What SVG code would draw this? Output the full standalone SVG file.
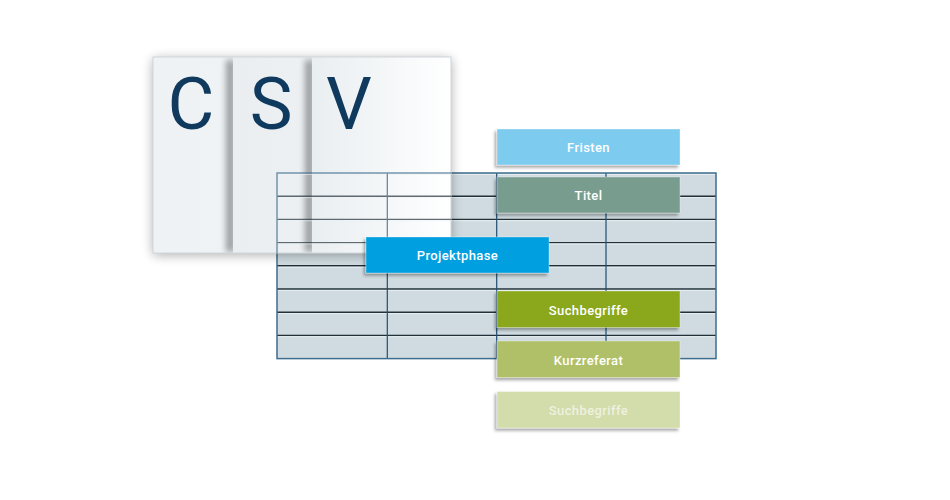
<svg xmlns="http://www.w3.org/2000/svg" xmlns:xlink="http://www.w3.org/1999/xlink" width="950" height="500" viewBox="0 0 950 500">
  <defs>
    <style>
      .cell { fill: #cfdbe0; }
      .hl { stroke: #22303a; stroke-width: 1.4; }
      .hi { stroke: #eef3f5; stroke-width: 0.8; }
      .vl { stroke: #1e4e72; stroke-width: 1.2; }
      .outer { fill: none; stroke: #3e6d8f; stroke-width: 1.5; }
      .letter { font-family: Roboto, "Liberation Sans", sans-serif; font-size: 72px; font-weight: 400; fill: #0f3a5e; text-anchor: middle; }
      .lbl { font-family: Roboto, "Liberation Sans", sans-serif; font-size: 13px; font-weight: 500; letter-spacing: 0.4px; fill: #ffffff; text-anchor: middle; }
      .box { stroke: #ffffff; stroke-opacity: 0.35; stroke-width: 1; filter: url(#boxShadow); }
    </style>
    <filter id="boxShadow" x="-10%" y="-30%" width="120%" height="170%">
      <feDropShadow dx="-2" dy="2.5" stdDeviation="1.6" flood-color="#000" flood-opacity="0.35"/>
    </filter>
    <filter id="stackBlur" x="-20%" y="-20%" width="140%" height="140%">
      <feGaussianBlur stdDeviation="6"/>
    </filter>
    <filter id="edgeBlur" x="-100%" y="-10%" width="300%" height="120%">
      <feGaussianBlur stdDeviation="3"/>
    </filter>
    <linearGradient id="p1" x1="0" y1="0" x2="1" y2="0">
      <stop offset="0" stop-color="#eef2f4"/>
      <stop offset="1" stop-color="#f2f5f6"/>
    </linearGradient>
    <linearGradient id="p2" x1="0" y1="0" x2="1" y2="0">
      <stop offset="0" stop-color="#eaeef1"/>
      <stop offset="1" stop-color="#f3f6f7"/>
    </linearGradient>
    <linearGradient id="p3" x1="0" y1="0" x2="1" y2="0">
      <stop offset="0" stop-color="#e9eef1"/>
      <stop offset="1" stop-color="#ffffff"/>
    </linearGradient>
    <clipPath id="pageClip">
      <rect x="153" y="57" width="298" height="196"/>
    </clipPath>
    <clipPath id="clip1">
      <rect x="153" y="57" width="80" height="196"/>
    </clipPath>
    <clipPath id="clip2">
      <rect x="233" y="57" width="79" height="196"/>
    </clipPath>
  </defs>

  <rect width="950" height="500" fill="#ffffff"/>

  <!-- Table -->
  <g id="table">
    <rect class="cell" x="277" y="173" width="439" height="185.6"/>
    <g id="grid-lines">
      <g class="hl">
        <line x1="277" y1="196.2" x2="716" y2="196.2"/>
        <line x1="277" y1="219.4" x2="716" y2="219.4"/>
        <line x1="277" y1="242.6" x2="716" y2="242.6"/>
        <line x1="277" y1="265.8" x2="716" y2="265.8"/>
        <line x1="277" y1="289" x2="716" y2="289"/>
        <line x1="277" y1="312.2" x2="716" y2="312.2"/>
        <line x1="277" y1="335.4" x2="716" y2="335.4"/>
      </g>
      <g class="hi">
        <line x1="278" y1="174.5" x2="715" y2="174.5"/>
        <line x1="278" y1="197.6" x2="715" y2="197.6"/>
        <line x1="278" y1="220.8" x2="715" y2="220.8"/>
        <line x1="278" y1="244" x2="715" y2="244"/>
        <line x1="278" y1="267.2" x2="715" y2="267.2"/>
        <line x1="278" y1="290.4" x2="715" y2="290.4"/>
        <line x1="278" y1="313.6" x2="715" y2="313.6"/>
        <line x1="278" y1="336.8" x2="715" y2="336.8"/>
      </g>
      <g class="vl">
        <line x1="387.3" y1="173" x2="387.3" y2="358.6"/>
        <line x1="496.7" y1="173" x2="496.7" y2="358.6"/>
        <line x1="606" y1="173" x2="606" y2="358.6"/>
      </g>
      <rect class="outer" x="277" y="173" width="439" height="185.6"/>
    </g>
  </g>

  <!-- CSV pages -->
  <g id="csv-pages">
    <rect x="153" y="59" width="298" height="196" fill="#000" opacity="0.32" filter="url(#stackBlur)"/>
    <rect x="153" y="57" width="298" height="196" fill="url(#p1)"/>
    <rect x="226" y="60" width="9" height="192" fill="#000" opacity="0.35" filter="url(#edgeBlur)" clip-path="url(#clip1)"/>
    <rect x="233" y="57" width="218" height="196" fill="url(#p2)"/>
    <rect x="305" y="60" width="9" height="192" fill="#000" opacity="0.35" filter="url(#edgeBlur)" clip-path="url(#clip2)"/>
    <rect x="312" y="57" width="139" height="196" fill="url(#p3)"/>
    <rect x="153" y="57" width="298" height="196" fill="none" stroke="#cfd6da" stroke-width="1"/>
    <use xlink:href="#grid-lines" clip-path="url(#pageClip)" opacity="0.7"/>
    <text class="letter" x="191" y="129">C</text>
    <text class="letter" x="271" y="129">S</text>
    <text class="letter" x="349" y="129">V</text>
  </g>

  <!-- Label boxes -->
  <g id="node-fristen">
    <rect class="box" x="497" y="129" width="183" height="36" fill="#7ecbf0"/>
    <text class="lbl" x="588.5" y="152">Fristen</text>
  </g>
  <g id="node-titel">
    <rect class="box" x="497" y="177" width="183" height="36" fill="#789c8e"/>
    <text class="lbl" x="588.5" y="200">Titel</text>
  </g>
  <g id="node-projektphase">
    <rect class="box" x="366" y="237" width="183" height="36" fill="#009fe0"/>
    <text class="lbl" x="457.5" y="260">Projektphase</text>
  </g>
  <g id="node-suchbegriffe">
    <rect class="box" x="497" y="291" width="183" height="36.5" fill="#8ba71e"/>
    <text class="lbl" x="588.5" y="314.5">Suchbegriffe</text>
  </g>
  <g id="node-kurzreferat">
    <rect class="box" x="497" y="341" width="183" height="36.5" fill="#b0c067"/>
    <text class="lbl" x="588.5" y="364.5">Kurzreferat</text>
  </g>
  <g id="node-suchbegriffe-2">
    <rect class="box" x="497" y="391.5" width="183" height="36.5" fill="#d3dcab"/>
    <text class="lbl" x="588.5" y="415" style="fill:#eef1df">Suchbegriffe</text>
  </g>
</svg>
